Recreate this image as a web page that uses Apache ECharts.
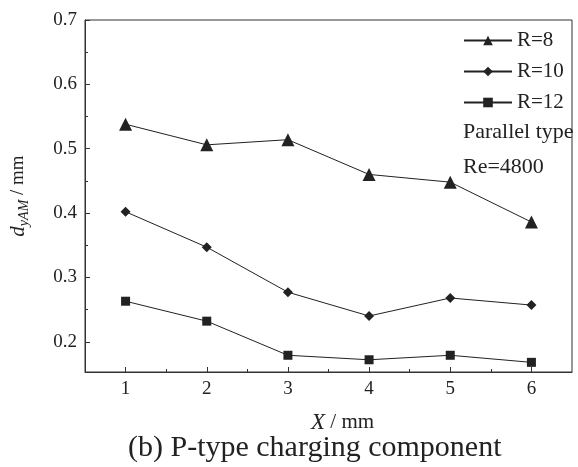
<!DOCTYPE html>
<html>
<head>
<meta charset="utf-8">
<script src="https://cdn.jsdelivr.net/npm/echarts@6/dist/echarts.min.js"></script>
<style>
html,body{margin:0;padding:0;background:#fff;}
#c{width:578px;height:467px;}
</style>
</head>
<body>
<div id="c"></div>
<script>
var xValues = [1, 2, 3, 4, 5, 6];
var r8 = [0.538, 0.506, 0.514, 0.460, 0.448, 0.386];
var r10 = [0.402, 0.347, 0.277, 0.240, 0.268, 0.257];
var r12 = [0.263, 0.232, 0.179, 0.172, 0.179, 0.168];
var seriesNames = ['R=8', 'R=10', 'R=12'];
var yTickValues = [0.2, 0.3, 0.4, 0.5, 0.6, 0.7];
var yMinorValues = [0.25, 0.35, 0.45, 0.55, 0.65];
var xTickValues = [1, 2, 3, 4, 5, 6];
var xMinorValues = [1.5, 2.5, 3.5, 4.5, 5.5];
var noteLines = ['Parallel type', 'Re=4800'];
var caption = '(b) P-type charging component';

function pairs(ys) { return xValues.map(function (x, i) { return [x, ys[i]]; }); }

var FONT = '"Liberation Serif", "Times New Roman", serif';
var INK = '#222';
var chart = echarts.init(document.getElementById('c'), null, {renderer: 'canvas'});

function lineSeries(name, data, symbol, size) {
  return {
    name: name, type: 'line', data: pairs(data), xAxisIndex: 0, yAxisIndex: 0,
    symbol: symbol, symbolSize: size,
    lineStyle: {color: INK, width: 1},
    itemStyle: {color: INK},
    emphasis: {disabled: true},
    animation: false
  };
}

var option = {
  backgroundColor: '#fff',
  animation: false,
  grid: {left: 85, right: 6, top: 20, bottom: 95, containLabel: false, outerBoundsMode: 'none',
         show: true, borderColor: '#333', borderWidth: 1, backgroundColor: 'transparent'},
  legend: {
    orient: 'vertical', left: 463, top: 30, padding: 0,
    itemWidth: 48, itemHeight: 12, itemGap: 10,
    textStyle: {fontFamily: FONT, fontSize: 21, color: INK},
    data: seriesNames
  },
  xAxis: [{
    type: 'value', min: 0.5, max: 6.5, position: 'bottom',
    axisLine: {show: true, lineStyle: {color: '#333', width: 1}},
    axisTick: {show: true, inside: true, length: 5, customValues: xTickValues, lineStyle: {color: '#333'}},
    axisLabel: {customValues: xTickValues, fontFamily: FONT, fontSize: 19, color: INK, margin: 8},
    splitLine: {show: false}
  }, {
    type: 'value', min: 0.5, max: 6.5, position: 'bottom',
    axisLine: {show: false},
    axisTick: {show: true, inside: true, length: 3, customValues: xMinorValues, lineStyle: {color: '#333'}},
    axisLabel: {show: false},
    splitLine: {show: false}
  }],
  yAxis: [{
    type: 'value', min: 0.153, max: 0.7, position: 'left',
    name: '{d|d}{s|yAM}{n| / mm}', nameLocation: 'middle', nameRotate: 90, nameGap: 54,
    nameTextStyle: {rich: {
      d: {fontFamily: FONT, fontStyle: 'italic', fontSize: 21, color: INK},
      s: {fontFamily: FONT, fontStyle: 'italic', fontSize: 14, color: INK, padding: [11, 0, 0, 0]},
      n: {fontFamily: FONT, fontSize: 19, color: INK}
    }},
    axisLine: {show: true, lineStyle: {color: '#333', width: 1}},
    axisTick: {show: true, inside: true, length: 5, customValues: yTickValues, lineStyle: {color: '#333'}},
    axisLabel: {customValues: yTickValues, fontFamily: FONT, fontSize: 19, color: INK, margin: 8,
      formatter: function (v) { return v.toFixed(1); }},
    splitLine: {show: false}
  }, {
    type: 'value', min: 0.153, max: 0.7, position: 'left',
    axisLine: {show: false},
    axisTick: {show: true, inside: true, length: 3, customValues: yMinorValues, lineStyle: {color: '#333'}},
    axisLabel: {show: false},
    splitLine: {show: false}
  }],
  graphic: [
    {type: 'text', left: 463, top: 121, style: {text: noteLines[0], font: '22px ' + FONT, fill: INK}},
    {type: 'text', left: 463, top: 156, style: {text: noteLines[1], font: '22px ' + FONT, fill: INK}},
    {type: 'text', left: 311, top: 411, style: {text: '{i|X}{n| / mm}', rich: {
      i: {fontFamily: FONT, fontStyle: 'italic', fontSize: 23, fill: INK},
      n: {fontFamily: FONT, fontSize: 21, fill: INK}
    }}},
    {type: 'text', left: 128, top: 433, style: {text: caption, font: '30px ' + FONT, fill: INK}}
  ],
  series: [
    lineSeries(seriesNames[0], r8, 'triangle', 13),
    lineSeries(seriesNames[1], r10, 'diamond', 10),
    lineSeries(seriesNames[2], r12, 'rect', 9)
  ]
};
chart.setOption(option);
</script>
</body>
</html>
